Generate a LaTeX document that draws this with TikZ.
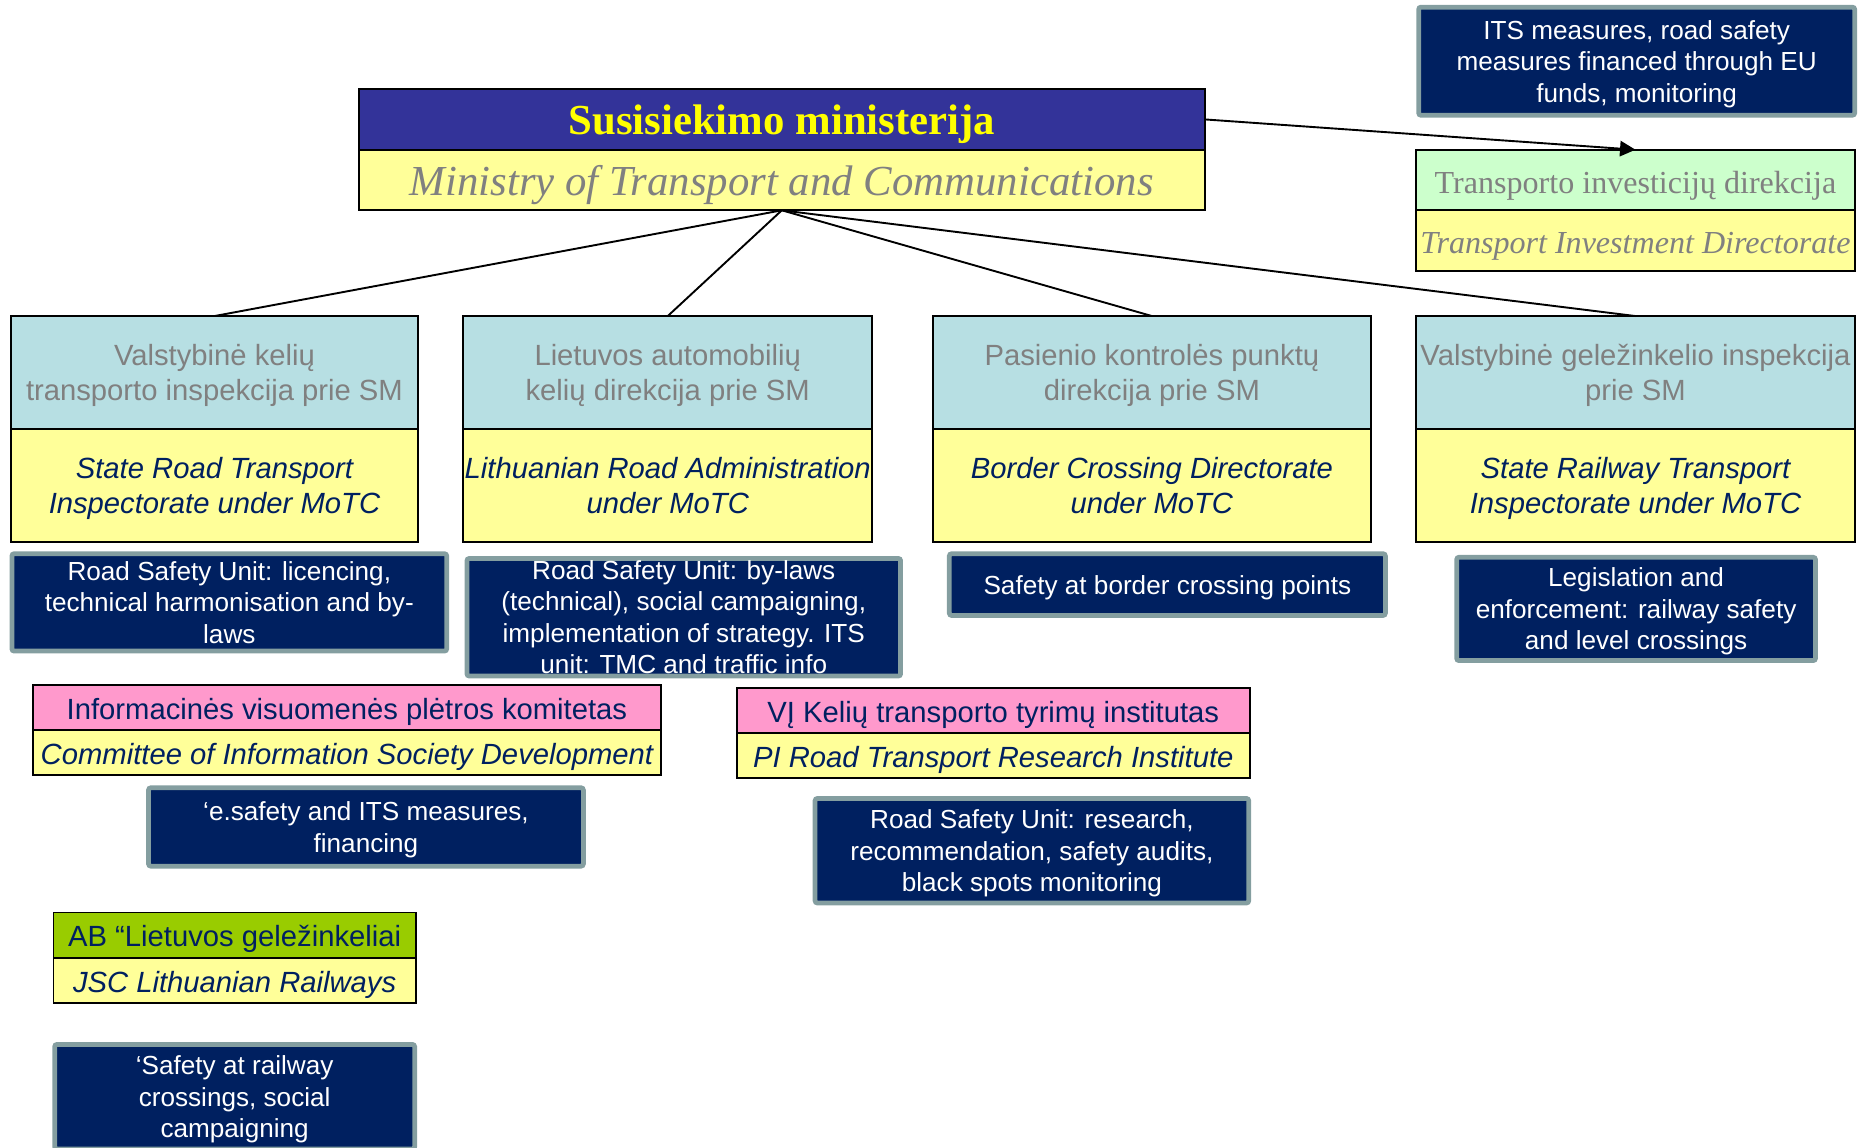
\documentclass[tikz,border=0pt]{standalone}
\usepackage{fontspec}
\setmainfont{Liberation Sans}
\newfontfamily\timesfont{Liberation Serif}
\usepackage{tikz}
\usetikzlibrary{positioning}
\usetikzlibrary{arrows.meta}

\definecolor{ministryblue}{RGB}{51,51,153}
\definecolor{titleyellow}{RGB}{255,255,0}
\definecolor{paleyellow}{RGB}{255,255,153}
\definecolor{rowblue}{RGB}{183,223,227}
\definecolor{palegreen}{RGB}{204,255,204}
\definecolor{pinkfill}{RGB}{255,153,204}
\definecolor{railgreen}{RGB}{153,204,0}
\definecolor{navy}{RGB}{0,32,96}
\definecolor{notegrey}{RGB}{132,158,160}
\definecolor{textgrey}{RGB}{128,128,128}

\tikzset{
	ministry/.style={draw, rectangle, thick, inner sep=0pt, outer sep=0pt, minimum width=356pt, minimum height=25.5pt, fill=ministryblue, text=titleyellow, font=\timesfont\bfseries\fontsize{18}{21}\selectfont, execute at begin node={\rule{0pt}{16.5pt}}},
	ministryen/.style={draw, rectangle, thick, inner sep=0pt, outer sep=0pt, minimum width=356pt, minimum height=25.5pt, fill=paleyellow, text=textgrey, font=\timesfont\itshape\fontsize{18}{21}\selectfont, execute at begin node={\rule{0pt}{17pt}}},
	tidlt/.style={draw, rectangle, thick, inner sep=0pt, outer sep=0pt, minimum width=184.5pt, minimum height=25.5pt, fill=palegreen, text=textgrey, font=\timesfont\fontsize{13.5}{16}\selectfont, execute at begin node={\rule{0pt}{14pt}}},
	tiden/.style={draw, rectangle, thick, inner sep=0pt, outer sep=0pt, minimum width=184.5pt, minimum height=25.5pt, fill=paleyellow, text=textgrey, font=\timesfont\itshape\fontsize{13.5}{16}\selectfont, execute at begin node={\rule{0pt}{14pt}}},
	% upper and lower halves of the agency boxes
	agency/.style={draw, rectangle, thick, inner sep=0pt, outer sep=0pt, align=center, minimum height=47.5pt, fill=rowblue, text=textgrey, font=\fontsize{12.3}{15}\selectfont, text depth=-0.9pt},
	agencyen/.style={draw, rectangle, thick, inner sep=0pt, outer sep=0pt, align=center, minimum height=47.5pt, fill=paleyellow, text=navy, font=\itshape\fontsize{12.3}{15}\selectfont, text depth=-0.9pt},
	body/.style={draw, rectangle, thick, inner sep=0pt, outer sep=0pt, minimum height=19pt, text=navy, font=\fontsize{12.3}{15}\selectfont, execute at begin node={\rule{0pt}{12.5pt}}},
	bodyen/.style={draw, rectangle, thick, inner sep=0pt, outer sep=0pt, minimum height=19pt, fill=paleyellow, text=navy, font=\itshape\fontsize{12.3}{15}\selectfont, execute at begin node={\rule{0pt}{12.5pt}}},
	task/.style={draw=notegrey, line width=2pt, rounded corners=1pt, fill=navy, text=white, align=center, inner sep=0pt, font=\fontsize{11}{13.25}\selectfont, text depth=-1.3pt},
}

\begin{document}
\begin{tikzpicture}[x=0.5pt, y=-0.5pt]
	\useasboundingbox (0,0) rectangle (1568,966);
	
	\node (smlt) [ministry] at (658,100.5) {Susisiekimo ministerija};
	\node (smen) [ministryen, below=0pt of smlt] {Ministry of Transport and Communications};
	
	\node (tidtask) [task, minimum width=183.5pt, minimum height=45.5pt] at (1377.5,51.5) {ITS measures, road safety\\measures financed through EU\\funds, monitoring};
	\node (tidlt) [tidlt] at (1376.5,151.5) {Transporto investicijų direkcija};
	\node (tiden) [tiden, below=0pt of tidlt] {Transport Investment Directorate};
	
	\node (vktilt) [agency, minimum width=171.5pt] at (180.5,313.5) {Valstybinė kelių\\transporto inspekcija prie SM};
	\node (vktien) [agencyen, minimum width=171.5pt, below=0pt of vktilt] {State Road Transport\\Inspectorate under MoTC};
	\node (vktitask) [task, minimum width=183pt, minimum height=41pt] at (193,507) {Road Safety Unit: licencing,\\technical harmonisation and by-\\laws};
	
	\node (lakdlt) [agency, minimum width=172pt] at (562,313.5) {Lietuvos automobilių\\kelių direkcija prie SM};
	\node (lakden) [agencyen, minimum width=172pt, below=0pt of lakdlt] {Lithuanian Road Administration\\under MoTC};
	\node (lakdtask) [task, minimum width=182.5pt, minimum height=49.5pt, text depth={}] at (575.5,519.5) {Road Safety Unit: by-laws\\(technical), social campaigning,\\implementation of strategy. ITS\\unit: TMC and traffic info};
	
	\node (pkpdlt) [agency, minimum width=184.5pt] at (969.5,313.5) {Pasienio kontrolės punktų\\direkcija prie SM};
	\node (pkpden) [agencyen, minimum width=184.5pt, below=0pt of pkpdlt] {Border Crossing Directorate\\under MoTC};
	\node (pkpdtask) [task, minimum width=183.5pt, minimum height=26pt] at (982.5,492) {Safety at border crossing points};
	
	\node (vgilt) [agency, minimum width=184.5pt] at (1376.5,313.5) {Valstybinė geležinkelio inspekcija\\prie SM};
	\node (vgien) [agencyen, minimum width=184.5pt, below=0pt of vgilt] {State Railway Transport\\Inspectorate under MoTC};
	\node (vgitask) [task, minimum width=151pt, minimum height=43.5pt] at (1377,512.5) {Legislation and\\enforcement: railway safety\\and level crossings};
	
	\node (ivpklt) [body, fill=pinkfill, minimum width=264pt] at (292,595.5) {Informacinės visuomenės plėtros komitetas};
	\node (ivpken) [bodyen, minimum width=264pt, below=0pt of ivpklt] {Committee of Information Society Development};
	\node (ivpktask) [task, minimum width=183pt, minimum height=33pt] at (308,696) {‘e.safety and ITS measures,\\financing};
	
	\node (kttilt) [body, fill=pinkfill, minimum width=216pt] at (836,598) {VĮ Kelių transporto tyrimų institutas};
	\node (kttien) [bodyen, minimum width=216pt, below=0pt of kttilt] {PI Road Transport Research Institute};
	\node (kttitask) [task, minimum width=182.5pt, minimum height=44pt] at (868.5,716) {Road Safety Unit: research,\\recommendation, safety audits,\\black spots monitoring};
	
	\node (lglt) [body, fill=railgreen, minimum width=152.5pt] at (197.5,787) {AB “Lietuvos geležinkeliai};
	\node (lgen) [bodyen, minimum width=152.5pt, below=0pt of lglt] {JSC Lithuanian Railways};
	\node (lgtask) [task, minimum width=151.5pt, minimum height=44pt] at (197.5,923) {‘Safety at railway\\crossings, social\\campaigning};
	
	\begin{scope}[thick, black]
		\draw (smen.south) -- (vktilt.north);
		\draw (smen.south) -- (lakdlt.north);
		\draw (smen.south) -- (pkpdlt.north);
		\draw (smen.south) -- (vgilt.north);
		\draw [-{Triangle[length=6.5pt, width=6.5pt]}] (smlt.east) -- (tidlt.north);
	\end{scope}
	
\end{tikzpicture}
\end{document}
